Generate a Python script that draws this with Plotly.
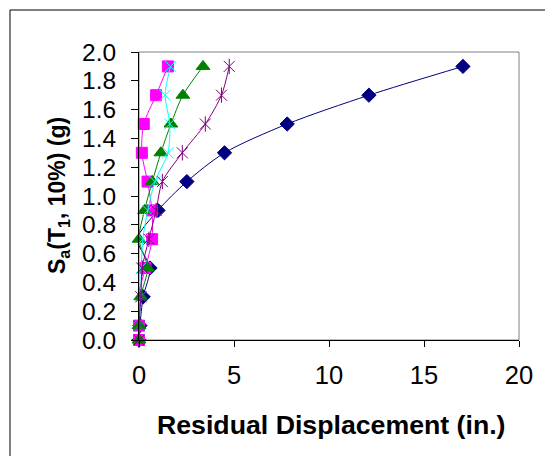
import plotly.graph_objects as go

# ---- data ----
sa_levels = [0, 0.1, 0.3, 0.5, 0.7, 0.9, 1.1, 1.3, 1.5, 1.7, 1.9]
series_a = [0, 0.05, 0.22, 0.58, -0.08, 1.0, 2.52, 4.5, 7.8, 12.1, 17.05]
series_b = [0, 0, -0.05, 0.34, 0.69, 0.68, 0.45, 0.15, 0.25, 0.9, 1.52]
series_c = [0, 0, 0.09, 0.45, 0, 0.29, 0.7, 1.15, 1.68, 2.31, 3.37]
series_d = [0, 0, 0.1, 0.12, 0.2, 0.46, 0.84, 1.52, 1.62, 1.37, 1.66]
series_e = [0, 0, 0.1, 0.17, 0.52, 0.9, 1.23, 2.28, 3.49, 4.34, 4.75]

x_ticks = [0, 5, 10, 15, 20]
y_ticks = [0.0, 0.2, 0.4, 0.6, 0.8, 1.0, 1.2, 1.4, 1.6, 1.8, 2.0]

FONT = "Liberation Sans, Arial, sans-serif"

fig = go.Figure()

def add_series(xs, name, color, symbol, size, lw=1.0):
    fig.add_trace(go.Scatter(
        x=xs, y=sa_levels, name=name, mode="lines+markers",
        line=dict(color=color, width=lw, shape="spline", smoothing=0.8),
        marker=dict(color=color, symbol=symbol, size=size,
                    line=dict(color=color, width=1)),
        cliponaxis=False,
    ))

add_series(series_a, "Series 1", "#000080", "diamond", 11)
add_series(series_b, "Series 2", "#FF00FF", "square", 11)
add_series(series_c, "Series 3", "#008000", "triangle-up", 12)
add_series(series_d, "Series 4", "#00FFFF", "x-thin-open", 11)
add_series(series_e, "Series 5", "#800080", "x-thin-open", 11)
# vertical stroke of the star marker for series 5
fig.add_trace(go.Scatter(
    x=series_e, y=sa_levels, mode="markers", showlegend=False,
    marker=dict(color="#800080", symbol="line-ns-open", size=11,
                line=dict(color="#800080", width=1)),
    cliponaxis=False, hoverinfo="skip",
))

# page has an 8px body margin: lay out in figure coordinates
OFF = 8
W, H = 553 - 2 * OFF, 464 - 2 * OFF
L, R, T, B = 139 - OFF, 519 - OFF, 52 - OFF, 340 - OFF
pw, ph = R - L, B - T

def px(xpage):
    return (xpage - OFF - L) / pw

def py(ypage):
    return (B - (ypage - OFF)) / ph

fig.update_layout(
    width=W, height=H,
    margin=dict(l=L, r=W - R, t=T, b=H - B, pad=0, autoexpand=False),
    paper_bgcolor="white", plot_bgcolor="white",
    showlegend=False,
    font=dict(family=FONT, color="black"),
    shapes=[
        dict(type="rect", xref="paper", yref="paper", x0=0, x1=1, y0=0, y1=1,
             line=dict(color="#808080", width=1), layer="below"),
        dict(type="rect", xref="paper", yref="paper",
             x0=px(10), x1=px(600), y0=py(10), y1=py(520),
             line=dict(color="black", width=1), layer="below"),
    ],
    annotations=[
        dict(text="<b>Residual Displacement (in.)</b>", xref="paper", yref="paper",
             x=px(331), y=py(425), showarrow=False, xanchor="center", yanchor="middle",
             font=dict(size=26.7, family=FONT, color="black")),
        dict(text="<b>S<sub>a</sub>(T<sub>1</sub>, 10%) (g)</b>", xref="paper", yref="paper",
             x=px(58), y=py(196), showarrow=False, textangle=-90,
             xanchor="center", yanchor="middle",
             font=dict(size=23, family=FONT, color="black")),
    ],
)

fig.update_xaxes(
    range=[0, 20], tickvals=x_ticks, ticktext=[str(v) for v in x_ticks],
    showgrid=False, zeroline=False, showline=True, linecolor="black", linewidth=1,
    ticks="outside", ticklen=6, tickcolor="black", automargin=False,
    tickfont=dict(size=25.5, family=FONT, color="black"),
    ticklabelstandoff=6,
)
fig.update_yaxes(
    range=[0, 2.0], tickvals=y_ticks, ticktext=[f"{v:.1f}" for v in y_ticks],
    showgrid=False, zeroline=False, showline=True, linecolor="black", linewidth=1,
    ticks="outside", ticklen=7, tickcolor="black", automargin=False,
    tickfont=dict(size=24.5, family=FONT, color="black"),
    ticklabelstandoff=10,
)

fig.write_html("out.html")
